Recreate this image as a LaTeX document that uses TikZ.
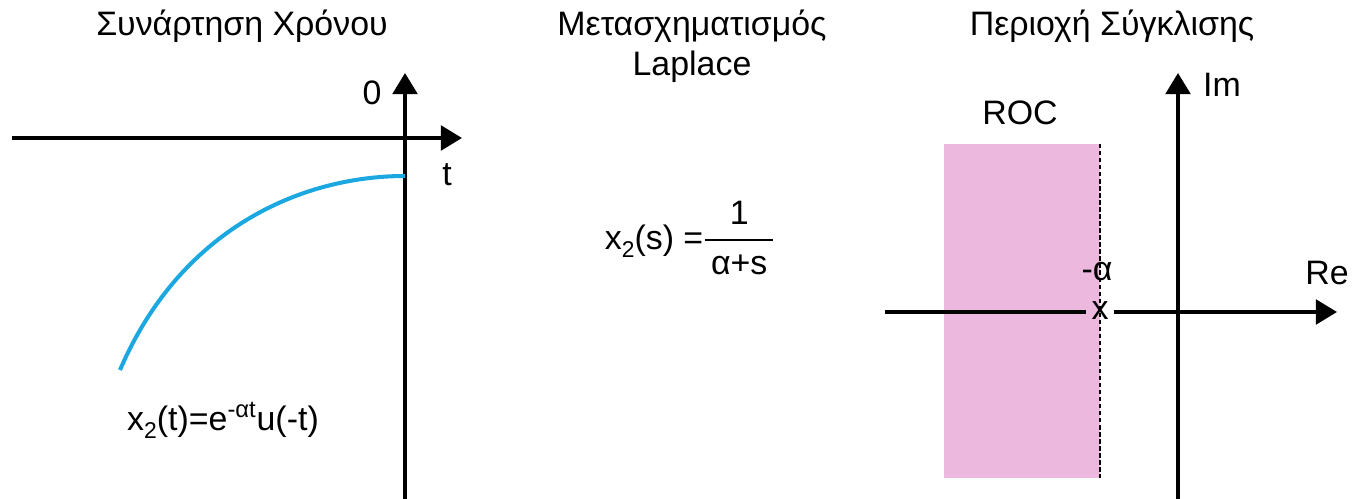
\documentclass[tikz,border=0pt]{standalone}
\usepackage{amsmath}
\usepackage{fontspec}
\setmainfont{Liberation Sans}
\usepackage{xcolor}
\usepackage{tikz}
\usetikzlibrary{arrows.meta}
\definecolor{curveblue}{RGB}{27,168,224}
\definecolor{rocpink}{RGB}{236,184,222}
\newcommand{\lowsub}[1]{\raisebox{-0.45ex}{\fontsize{13}{13}\selectfont #1}}

\begin{document}
\begin{tikzpicture}[
    x=0.02cm, y=-0.02cm,
    every node/.style={font=\fontsize{19.3}{22.7}\selectfont, inner sep=1pt},
    axis/.style={draw, line width=2pt, -{Triangle[length=12pt,width=14pt]}},
    sig/.style={draw=curveblue, line width=2.3pt},
    dashline/.style={draw, line width=1pt, dash pattern=on 2.5pt off 1.5pt}
]
    \useasboundingbox (0,0) rectangle (1352,499);

    % Titles
    \node (T1) at (242,26) {Συνάρτηση Χρόνου};
    \node[align=center] (T2) at (692,46) {Μετασχηματισμός\\Laplace};
    \node (T3) at (1112,26) {Περιοχή Σύγκλισης};

    % Time function
    \coordinate (tl) at (12,138);
    \coordinate (tr) at (462,138);
    \coordinate (vb) at (405,499);
    \coordinate (vt) at (405,73);
    \draw[axis] (tl) -- (tr);
    \draw[axis] (vb) -- (vt);
    \node (zero) at (372,93) {0};
    \node (tlab) at (447,175) {t};
    \coordinate (cs) at (120,370);
    \coordinate (ce) at (405,176);
    \draw[sig] (cs) .. controls (180,230) and (300,176) .. (ce);
    \node (xt) at (223,420) {x\lowsub{2}(t)=e\textsuperscript{-αt}u(-t)};

    % Laplace transform
    \node (xs) at (690,238) {x\lowsub{2}(s) =\(\dfrac{\text{\,1\,}}{\text{\,α+s\,}}\)};

    % Region of convergence
    \fill[rocpink] (944,144) rectangle (1100,478);
    \draw[dashline] (1100,144) -- (1100,478);
    \node[inner sep=3pt] (pole) at (1100,311) {x};
    \coordinate (rl) at (885,312);
    \coordinate (rr) at (1337,312);
    \draw[line width=2pt] (rl) -- (pole.west |- rl);
    \draw[axis] (pole.east |- rr) -- (rr);
    \coordinate (ib) at (1178,499);
    \coordinate (it) at (1178,73);
    \draw[axis] (ib) -- (it);
    \node (alpha) at (1097,272) {-α};
    \node (im) at (1222,85) {Im};
    \node (re) at (1327,273) {Re};
    \node (roc) at (1020,113) {ROC};
\end{tikzpicture}
\end{document}
